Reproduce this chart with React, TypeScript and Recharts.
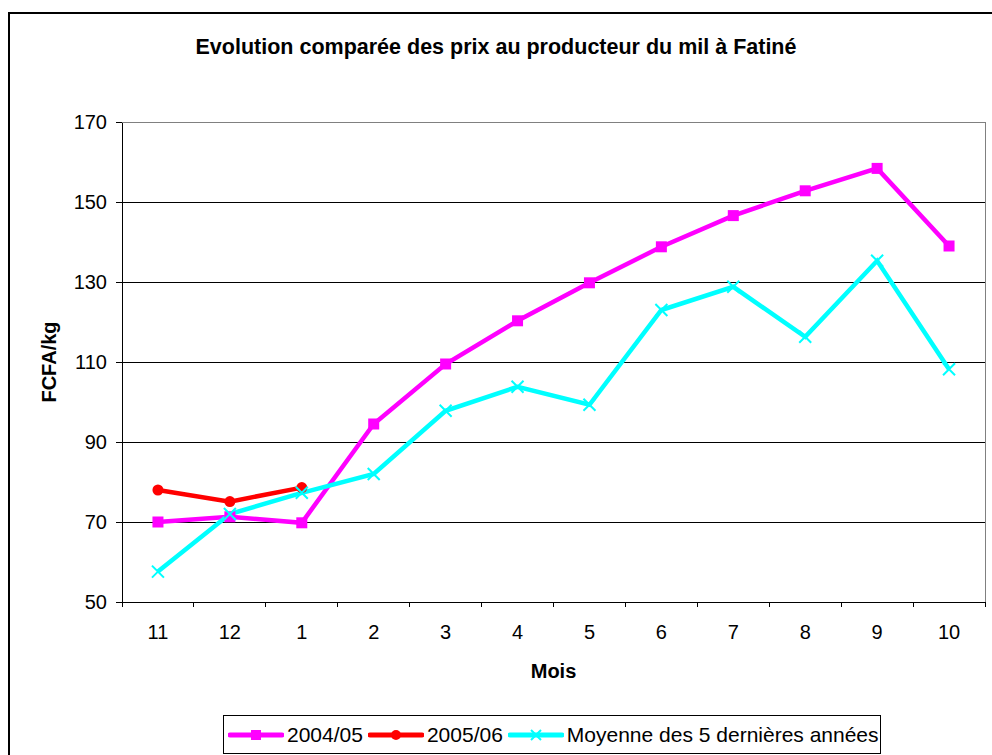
import React from 'react';
import { LineChart, Line, XAxis, YAxis, CartesianGrid, Legend } from 'recharts';

const months = ['11', '12', '1', '2', '3', '4', '5', '6', '7', '8', '9', '10'];
const prix200405 = [70, 71.3, 69.8, 94.5, 109.5, 120.3, 129.8, 138.8, 146.6, 152.8, 158.4, 139];
const prix200506: (number | null)[] = [78, 75.1, 78.6, null, null, null, null, null, null, null, null, null];
const moyenne5ans = [57.6, 72, 77.3, 82, 97.8, 103.8, 99.3, 123, 128.8, 116.3, 135.3, 108.2];
const yTicks = [50, 70, 90, 110, 130, 150, 170];

const seriesNames = ['2004/05', '2005/06', 'Moyenne des 5 dernières années'];
const seriesColors = ['#FF00FF', '#FF0000', '#00FFFF'];

const data = months.map((m, i) => ({
  mois: m,
  a: prix200405[i],
  b: prix200506[i],
  c: moyenne5ans[i],
}));

const FONT = '"Liberation Sans", Arial, sans-serif';
const TICK_SIZE = 5;
const TICK_MARGIN = 18;

const SquareDot = (props: any) => {
  const { cx, cy, index } = props;
  if (cx == null || cy == null) return <g key={`s${index}`} />;
  return <rect key={`s${index}`} x={cx - 5.5} y={cy - 5.5} width={11} height={11} fill="#FF00FF" />;
};
const CircleDot = (props: any) => {
  const { cx, cy, index } = props;
  if (cx == null || cy == null) return <g key={`c${index}`} />;
  return <circle key={`c${index}`} cx={cx} cy={cy} r={5.5} fill="#FF0000" />;
};
const CrossDot = (props: any) => {
  const { cx, cy, index } = props;
  if (cx == null || cy == null) return <g key={`x${index}`} />;
  return (
    <path
      key={`x${index}`}
      d={`M${cx - 6},${cy - 6}L${cx + 6},${cy + 6}M${cx - 6},${cy + 6}L${cx + 6},${cy - 6}`}
      stroke="#00FFFF"
      strokeWidth={2}
      fill="none"
    />
  );
};

const XTick = (props: any) => {
  const { x, y, payload, index, visibleTicksCount } = props;
  const half = payload && payload.offset ? payload.offset : 36;
  const axisY = y - TICK_MARGIN - TICK_SIZE;
  return (
    <g>
      <line x1={x - half} x2={x - half} y1={axisY} y2={axisY + TICK_SIZE} stroke="#000" shapeRendering="crispEdges" />
      {index === visibleTicksCount - 1 && (
        <line x1={x + half} x2={x + half} y1={axisY} y2={axisY + TICK_SIZE} stroke="#000" shapeRendering="crispEdges" />
      )}
      <text x={x} y={y} dy="0.71em" textAnchor="middle" fontSize={20} fontFamily={FONT} fill="#000">
        {payload.value}
      </text>
    </g>
  );
};

const LegendIcon = ({ idx }: { idx: number }) => {
  const color = seriesColors[idx];
  return (
    <svg width={56} height={14} style={{ display: 'block' }}>
      <line x1={2} x2={54} y1={7} y2={7} stroke={color} strokeWidth={5} strokeLinecap="round" />
      {idx === 0 && <rect x={23} y={2} width={10} height={10} fill={color} />}
      {idx === 1 && <circle cx={28} cy={7} r={5} fill={color} />}
      {idx === 2 && (
        <path d="M23,2L33,12M23,12L33,2" stroke={color} strokeWidth={2} fill="none" />
      )}
    </svg>
  );
};

const LegendContent = () => (
  <div
    style={{
      display: 'flex',
      alignItems: 'center',
      height: 39,
      width: 658,
      border: '1px solid #000',
      background: '#fff',
      paddingLeft: 4,
      fontFamily: FONT,
      fontSize: 21,
      color: '#000',
      boxSizing: 'border-box',
    }}
  >
    {seriesNames.map((n, i) => (
      <div key={n} style={{ display: 'flex', alignItems: 'center', marginRight: i < 2 ? 5 : 0 }}>
        <LegendIcon idx={i} />
        <span style={{ marginLeft: 3, whiteSpace: 'nowrap' }}>{n}</span>
      </div>
    ))}
  </div>
);

const YLabel = (props: any) => {
  const vb = props.viewBox || { x: 0, y: 122, width: 122, height: 480 };
  const cx = 49;
  const cy = vb.y + vb.height / 2;
  return (
    <text
      x={cx}
      y={cy}
      transform={`rotate(-90 ${cx} ${cy})`}
      textAnchor="middle"
      dominantBaseline="central"
      fontSize={20}
      fontWeight="bold"
      fontFamily={FONT}
      fill="#000"
    >
      FCFA/kg
    </text>
  );
};

const XLabel = (props: any) => {
  const vb = props.viewBox || { x: 122, y: 602, width: 863, height: 153 };
  const cx = vb.x + vb.width / 2;
  return (
    <text
      x={cx}
      y={671}
      textAnchor="middle"
      dominantBaseline="central"
      fontSize={20}
      fontWeight="bold"
      fontFamily={FONT}
      fill="#000"
    >
      Mois
    </text>
  );
};

export default function App() {
  return (
    <div
      style={{
        position: 'absolute',
        left: 0,
        top: 0,
        width: 992,
        height: 755,
        overflow: 'hidden',
        background: '#fff',
        fontFamily: FONT,
      }}
    >
      <div
        style={{
          position: 'absolute',
          left: 8,
          top: 12,
          width: 1100,
          height: 900,
          border: '2px solid #000',
        }}
      />
      <div
        style={{
          position: 'absolute',
          left: 0,
          top: 34,
          width: 992,
          textAlign: 'center',
          fontSize: 21.5,
          fontWeight: 'bold',
          lineHeight: '26px',
          color: '#000',
        }}
      >
        Evolution comparée des prix au producteur du mil à Fatiné
      </div>
      <div style={{ position: 'absolute', left: 0, top: 0 }}>
        <LineChart width={992} height={755} data={data} margin={{ top: 122, right: 7, bottom: 0, left: 0 }}>
          <CartesianGrid horizontal vertical={false} stroke="#000" strokeWidth={1} shapeRendering="crispEdges" />
          <XAxis
            dataKey="mois"
            scale="band"
            height={153}
            axisLine={{ stroke: '#000', shapeRendering: 'crispEdges' }}
            tickLine={false}
            tickSize={TICK_SIZE}
            tickMargin={TICK_MARGIN}
            interval={0}
            tick={<XTick />}
            label={<XLabel />}
          />
          <YAxis
            width={122}
            domain={[50, 170]}
            ticks={yTicks}
            interval={0}
            axisLine={{ stroke: '#000', shapeRendering: 'crispEdges' }}
            tickLine={{ stroke: '#000', shapeRendering: 'crispEdges' }}
            tickSize={6}
            tickMargin={9}
            tick={{ fontSize: 20, fontFamily: FONT, fill: '#000' }}
            label={<YLabel />}
          />
          <Line
            dataKey="a"
            name={seriesNames[0]}
            stroke={seriesColors[0]}
            strokeWidth={4.5}
            dot={SquareDot}
            activeDot={false}
            isAnimationActive={false}
          />
          <Line
            dataKey="b"
            name={seriesNames[1]}
            stroke={seriesColors[1]}
            strokeWidth={4.5}
            dot={CircleDot}
            activeDot={false}
            isAnimationActive={false}
          />
          <Line
            dataKey="c"
            name={seriesNames[2]}
            stroke={seriesColors[2]}
            strokeWidth={4.5}
            dot={CrossDot}
            activeDot={false}
            isAnimationActive={false}
          />
          <Legend
            layout="horizontal"
            verticalAlign="middle"
            align="center"
            content={<LegendContent />}
            wrapperStyle={{ left: 223, top: 715, width: 658, height: 39 }}
          />
        </LineChart>
      </div>
      <div
        style={{
          position: 'absolute',
          left: 122,
          top: 122,
          width: 864,
          height: 480,
          borderTop: '1px solid #808080',
          borderRight: '1px solid #808080',
          boxSizing: 'border-box',
          pointerEvents: 'none',
        }}
      />
    </div>
  );
}
